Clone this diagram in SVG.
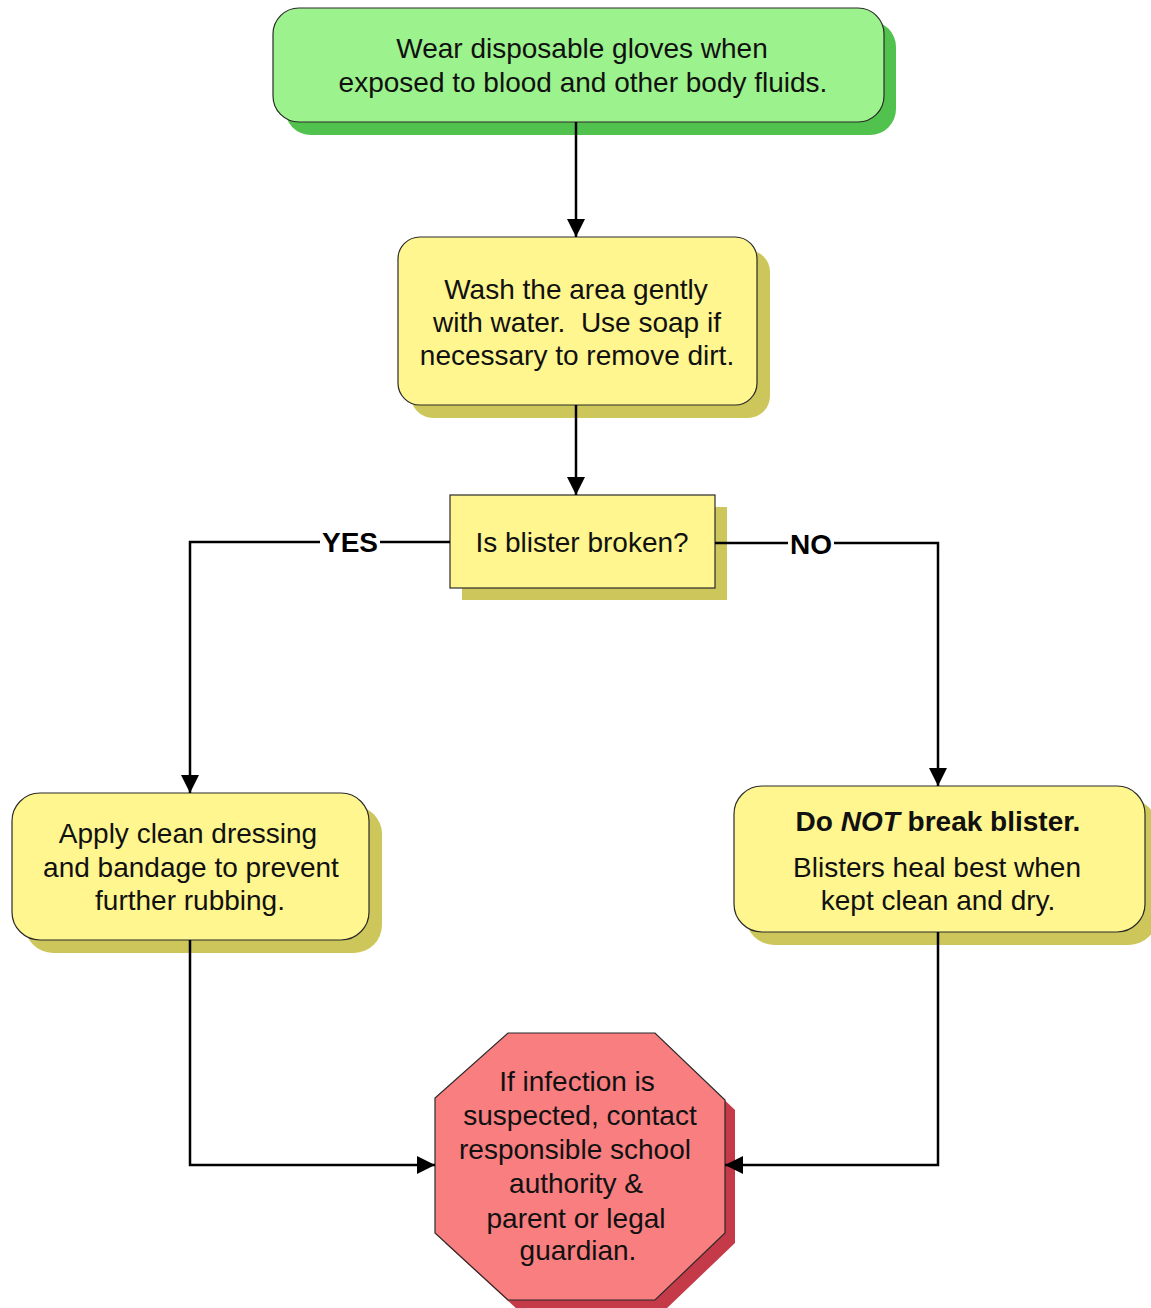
<svg xmlns="http://www.w3.org/2000/svg" width="1151" height="1308" viewBox="0 0 1151 1308">
  <defs>
    <marker id="arrow" viewBox="0 0 18 18" refX="18" refY="9" markerWidth="18" markerHeight="18" markerUnits="userSpaceOnUse" orient="auto">
      <path d="M0,0 L18,9 L0,18 Z" fill="#000"/>
    </marker>
    <style>
      .txt { font-family: "Liberation Sans", Arial, sans-serif; font-size: 28px; fill: #111; text-anchor: middle; white-space: pre; }
      .bold { font-weight: bold; }
      .lbl { font-family: "Liberation Sans", Arial, sans-serif; font-size: 28px; font-weight: bold; fill: #000; text-anchor: middle; }
      .edge { fill: none; stroke: #000; stroke-width: 2.5; }
      .green { fill: #9cf28c; stroke: #2a2a2a; stroke-width: 1.2; }
      .green-sh { fill: #52c24f; }
      .yellow { fill: #fff68f; stroke: #2a2a2a; stroke-width: 1.2; }
      .yellow-sh { fill: #cdc65a; }
      .red { fill: #f87e80; stroke: #2a2a2a; stroke-width: 1.2; }
      .red-sh { fill: #c43a48; }
    </style>
  </defs>

  <rect width="1151" height="1308" fill="#fff"/>

  <!-- start: gloves -->
  <g id="node-gloves">
    <rect class="green-sh" x="285" y="21" width="611" height="114" rx="26"/>
    <rect class="green" x="273" y="8" width="611" height="114" rx="26"/>
    <text class="txt" x="582" y="58">Wear disposable gloves when</text>
    <text class="txt" x="583" y="92">exposed to blood and other body fluids.</text>
  </g>

  <!-- wash step -->
  <g id="node-wash">
    <rect class="yellow-sh" x="411" y="250" width="359" height="168" rx="22"/>
    <rect class="yellow" x="398" y="237" width="359" height="168" rx="22"/>
    <text class="txt" x="576" y="299">Wash the area gently</text>
    <text class="txt" x="577" y="332" xml:space="preserve">with water.  Use soap if</text>
    <text class="txt" x="577" y="365">necessary to remove dirt.</text>
  </g>

  <!-- decision -->
  <g id="node-decision">
    <rect class="yellow-sh" x="462" y="507" width="265" height="93"/>
    <rect class="yellow" x="450" y="495" width="265" height="93"/>
    <text class="txt" x="582" y="552">Is blister broken?</text>
  </g>

  <!-- yes branch -->
  <g id="node-dressing">
    <rect class="yellow-sh" x="25" y="806" width="357" height="147" rx="28"/>
    <rect class="yellow" x="12" y="793" width="357" height="147" rx="28"/>
    <text class="txt" x="188" y="843">Apply clean dressing</text>
    <text class="txt" x="191" y="877">and bandage to prevent</text>
    <text class="txt" x="190" y="910">further rubbing.</text>
  </g>

  <!-- no branch -->
  <g id="node-nobreak">
    <rect class="yellow-sh" x="746" y="799" width="411" height="146" rx="28"/>
    <rect class="yellow" x="734" y="786" width="411" height="146" rx="28"/>
    <text class="txt bold" x="938" y="831">Do <tspan font-style="italic">NOT</tspan> break blister.</text>
    <text class="txt" x="937" y="877">Blisters heal best when</text>
    <text class="txt" x="938" y="910">kept clean and dry.</text>
  </g>

  <!-- stop: infection -->
  <g id="node-infection">
    <polygon class="red-sh" points="518,1043 665,1043 735,1110 735,1243 665,1310 518,1310 445,1243 445,1108"/>
    <polygon class="red" points="508,1033 655,1033 725,1100 725,1233 655,1300 508,1300 435,1233 435,1098"/>
    <text class="txt" x="577" y="1091">If infection is</text>
    <text class="txt" x="580" y="1125">suspected, contact</text>
    <text class="txt" x="575" y="1159">responsible school</text>
    <text class="txt" x="576" y="1193">authority &amp;</text>
    <text class="txt" x="576" y="1228">parent or legal</text>
    <text class="txt" x="578" y="1260">guardian.</text>
  </g>

  <!-- connectors, drawn over the drop shadows -->
  <g id="connectors">
    <path class="edge" d="M576,122 V237" marker-end="url(#arrow)"/>
    <path class="edge" d="M576,405 V495" marker-end="url(#arrow)"/>
    <path class="edge" d="M450,542 H190 V793" marker-end="url(#arrow)"/>
    <path class="edge" d="M715,543 H938 V786" marker-end="url(#arrow)"/>
    <path class="edge" d="M190,940 V1165 H435" marker-end="url(#arrow)"/>
    <path class="edge" d="M938,932 V1165 H725" marker-end="url(#arrow)"/>
    <g id="label-yes">
      <rect x="320" y="528" width="60" height="28" fill="#fff"/>
      <text class="lbl" x="350" y="552">YES</text>
    </g>
    <g id="label-no">
      <rect x="788" y="530" width="46" height="28" fill="#fff"/>
      <text class="lbl" x="811" y="554">NO</text>
    </g>
  </g>
</svg>
